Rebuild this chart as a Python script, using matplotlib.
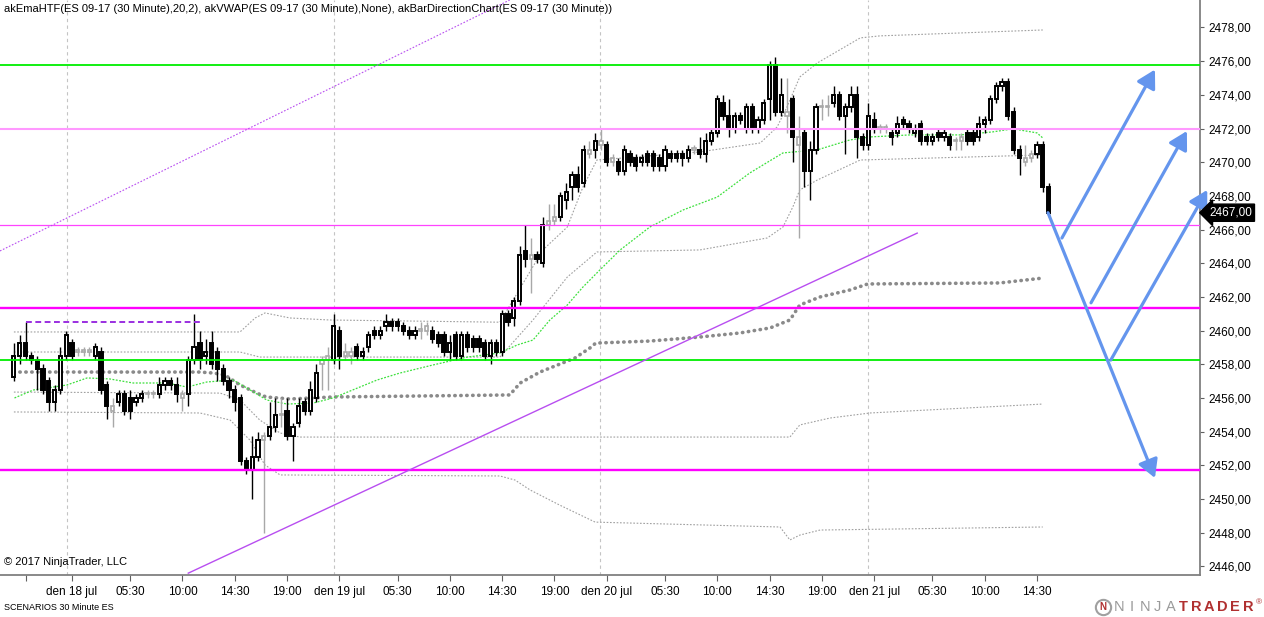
import numpy as np
import matplotlib.pyplot as plt
from matplotlib.lines import Line2D

plt.rcParams['font.family'] = ['Liberation Sans', 'DejaVu Sans']

# bar index of the 30 minute bars, 0 = first bar of "den 18 jul"
bar_idx = np.arange(-10, 169)

opens = [
    2457.25, 2458.5, 2459.25, 2458.5, 2458.25, 2457.75, 2457.0, 2455.75, 2456.5, 2458.5,
    2459.25, 2458.75, 2458.75, 2458.75, 2458.5, 2458.75, 2456.75, 2455.5, 2455.75, 2456.25,
    2456.0, 2455.75, 2456.0, 2456.25, 2456.25, 2456.25, 2456.75, 2457.0, 2456.75, 2456.25,
    2456.25, 2458.25, 2459.25, 2458.5, 2459.25, 2458.75, 2457.75, 2457.0, 2456.5, 2456.0,
    2452.25, 2451.75, 2452.5, 2453.75, 2453.75, 2454.25, 2455.0, 2455.25, 2453.75, 2454.5,
    2455.75, 2455.25, 2456.0, 2458.0, 2458.25, 2458.25, 2460.0, 2458.75, 2458.5, 2459.0,
    2458.5, 2459.0, 2460.0, 2459.75, 2460.25, 2460.5, 2460.5, 2460.25, 2460.0, 2459.75,
    2460.0, 2460.0, 2460.0, 2459.75, 2459.75, 2458.75, 2459.75, 2458.5, 2459.75, 2459.5,
    2459.5, 2459.25, 2458.5, 2459.25, 2458.75, 2461.0, 2460.75, 2461.75, 2464.75, 2464.5,
    2464.5, 2464.0, 2466.25, 2466.5, 2466.75, 2467.75, 2468.5, 2469.25, 2468.75, 2470.75,
    2470.75, 2471.25, 2471.0, 2470.25, 2470.0, 2469.5, 2470.5, 2470.25, 2470.0, 2470.5,
    2470.5, 2470.25, 2469.75, 2470.5, 2470.5, 2470.5, 2470.25, 2470.75, 2470.75, 2470.5,
    2471.25, 2471.75, 2473.5, 2472.75, 2472.0, 2472.75, 2472.0, 2473.25, 2472.0, 2472.5,
    2473.75, 2475.75, 2473.0, 2473.0, 2473.75, 2471.5, 2471.75, 2469.5, 2470.75, 2473.25,
    2473.25, 2473.5, 2474.0, 2472.75, 2473.25, 2474.0, 2471.5, 2471.0, 2472.5, 2472.0,
    2472.0, 2471.75, 2471.75, 2472.5, 2472.25, 2471.75, 2472.25, 2471.5, 2471.25, 2471.75,
    2471.5, 2471.5, 2471.25, 2471.25, 2471.75, 2471.75, 2471.5, 2472.25, 2472.5, 2473.75,
    2474.5, 2474.75, 2473.0, 2470.75, 2470.25, 2470.25, 2470.5, 2471.0, 2468.5,
]
highs = [
    2459.25, 2459.75, 2460.5, 2458.75, 2458.5, 2458.0, 2457.25, 2456.75, 2459.0, 2460.0,
    2459.5, 2459.0, 2459.0, 2459.0, 2459.25, 2459.0, 2457.0, 2456.0, 2456.5, 2456.5,
    2456.5, 2456.25, 2456.5, 2456.5, 2456.5, 2457.25, 2457.25, 2457.25, 2457.25, 2456.5,
    2458.5, 2461.0, 2460.0, 2459.5, 2460.0, 2459.0, 2458.0, 2457.25, 2456.75, 2456.25,
    2452.5, 2453.75, 2454.0, 2454.0, 2455.75, 2456.0, 2456.0, 2456.0, 2454.5, 2456.0,
    2456.0, 2457.0, 2458.0, 2458.5, 2459.0, 2461.0, 2460.25, 2459.25, 2459.0, 2459.25,
    2459.0, 2460.0, 2460.25, 2460.25, 2461.0, 2460.75, 2460.75, 2460.5, 2460.25, 2460.25,
    2460.5, 2460.5, 2460.25, 2460.0, 2460.0, 2459.75, 2460.0, 2460.0, 2460.0, 2459.75,
    2459.75, 2459.5, 2459.5, 2459.5, 2461.25, 2461.25, 2462.0, 2465.0, 2466.25, 2465.5,
    2464.75, 2466.75, 2467.5, 2467.5, 2468.25, 2468.75, 2469.5, 2469.75, 2471.0, 2471.25,
    2471.75, 2472.0, 2471.25, 2470.5, 2470.25, 2471.0, 2470.75, 2470.5, 2470.5, 2470.75,
    2470.75, 2470.5, 2471.0, 2470.75, 2470.75, 2470.75, 2471.0, 2471.0, 2471.5, 2471.75,
    2472.0, 2474.0, 2474.0, 2473.75, 2473.0, 2473.0, 2473.5, 2473.5, 2472.75, 2473.75,
    2476.0, 2476.25, 2475.0, 2475.0, 2474.0, 2472.75, 2472.0, 2471.25, 2473.5, 2473.75,
    2474.0, 2474.5, 2474.25, 2473.5, 2474.5, 2474.5, 2471.75, 2473.5, 2473.0, 2472.25,
    2472.25, 2472.0, 2472.75, 2472.75, 2472.5, 2472.25, 2472.5, 2471.75, 2471.75, 2472.0,
    2472.0, 2471.75, 2471.5, 2471.75, 2472.0, 2472.0, 2472.75, 2472.75, 2474.0, 2474.75,
    2475.0, 2475.0, 2473.25, 2471.0, 2471.0, 2470.75, 2471.25, 2471.25, 2468.75,
]
lows = [
    2457.0, 2458.0, 2458.25, 2458.0, 2456.5, 2456.25, 2455.25, 2455.25, 2456.25, 2458.25,
    2458.25, 2458.5, 2458.5, 2458.5, 2458.25, 2456.25, 2454.75, 2454.25, 2455.5, 2455.0,
    2454.75, 2455.5, 2455.75, 2456.0, 2456.0, 2456.0, 2456.5, 2456.5, 2455.75, 2455.25,
    2455.5, 2458.0, 2457.75, 2458.0, 2457.75, 2457.0, 2456.75, 2456.0, 2455.25, 2452.0,
    2451.5, 2450.0, 2452.25, 2448.0, 2453.5, 2454.0, 2454.25, 2453.5, 2452.25, 2454.25,
    2455.0, 2455.0, 2455.75, 2456.5, 2456.5, 2458.0, 2457.75, 2458.25, 2458.0, 2458.25,
    2458.25, 2458.75, 2459.5, 2459.5, 2460.0, 2460.0, 2460.0, 2459.75, 2459.5, 2459.5,
    2459.5, 2459.75, 2459.25, 2459.0, 2458.5, 2458.25, 2458.25, 2458.25, 2458.75, 2458.75,
    2458.75, 2458.25, 2458.0, 2458.5, 2458.5, 2460.25, 2460.25, 2461.5, 2463.75, 2462.25,
    2464.0, 2463.75, 2466.0, 2466.25, 2466.5, 2467.25, 2467.75, 2468.25, 2468.5, 2470.25,
    2470.25, 2470.75, 2469.75, 2469.75, 2469.25, 2469.25, 2469.75, 2469.5, 2469.75, 2469.75,
    2469.5, 2469.5, 2469.5, 2470.0, 2470.0, 2469.75, 2470.0, 2470.5, 2470.25, 2470.0,
    2471.0, 2471.5, 2472.5, 2471.5, 2471.75, 2472.25, 2471.75, 2471.75, 2471.75, 2472.25,
    2472.5, 2472.75, 2472.75, 2471.75, 2470.0, 2465.5, 2468.5, 2467.75, 2470.5, 2472.5,
    2472.75, 2473.25, 2472.5, 2470.5, 2473.0, 2470.25, 2470.75, 2470.75, 2471.75, 2471.75,
    2471.75, 2471.0, 2471.5, 2472.0, 2471.75, 2471.5, 2471.0, 2471.0, 2471.0, 2471.25,
    2471.25, 2470.75, 2470.75, 2470.75, 2471.0, 2471.0, 2471.25, 2471.75, 2472.25, 2473.5,
    2474.25, 2472.5, 2470.5, 2469.25, 2469.75, 2470.0, 2470.25, 2468.25, 2466.75,
]
closes = [
    2458.5, 2459.25, 2458.5, 2458.25, 2457.75, 2456.5, 2455.75, 2456.5, 2458.5, 2459.75,
    2458.5, 2458.75, 2458.75, 2458.75, 2459.0, 2456.5, 2455.5, 2455.25, 2456.25, 2455.25,
    2455.25, 2456.0, 2456.25, 2456.25, 2456.25, 2456.75, 2457.0, 2456.75, 2456.25, 2456.0,
    2458.25, 2459.0, 2458.25, 2458.75, 2458.0, 2457.75, 2457.0, 2456.5, 2455.75, 2452.25,
    2451.75, 2452.5, 2453.5, 2453.5, 2454.25, 2455.0, 2455.0, 2453.75, 2454.25, 2455.5,
    2455.25, 2456.5, 2457.5, 2458.25, 2458.5, 2460.25, 2458.5, 2458.5, 2458.75, 2458.5,
    2458.75, 2459.75, 2459.75, 2460.0, 2460.5, 2460.25, 2460.25, 2460.0, 2459.75, 2460.0,
    2460.0, 2460.25, 2459.5, 2459.25, 2458.75, 2459.25, 2458.5, 2459.75, 2459.0, 2459.0,
    2459.0, 2458.5, 2459.25, 2458.75, 2461.0, 2460.5, 2461.75, 2464.5, 2464.25, 2464.25,
    2464.25, 2466.25, 2466.5, 2466.75, 2468.0, 2468.25, 2469.25, 2468.5, 2470.75, 2470.5,
    2471.25, 2471.0, 2470.0, 2470.0, 2469.5, 2470.75, 2470.0, 2469.75, 2470.25, 2470.0,
    2469.75, 2469.75, 2470.75, 2470.25, 2470.25, 2470.25, 2470.75, 2470.75, 2470.5, 2471.25,
    2471.75, 2473.75, 2472.75, 2472.0, 2472.75, 2472.5, 2473.25, 2472.0, 2472.5, 2473.5,
    2475.75, 2473.0, 2474.0, 2472.75, 2471.5, 2471.0, 2469.5, 2470.75, 2473.25, 2473.25,
    2473.25, 2474.0, 2472.75, 2473.25, 2474.0, 2471.5, 2471.0, 2472.75, 2472.0, 2472.0,
    2472.0, 2471.5, 2472.25, 2472.25, 2472.0, 2472.0, 2471.25, 2471.25, 2471.5, 2471.5,
    2471.75, 2471.0, 2471.25, 2471.5, 2471.25, 2471.25, 2472.25, 2472.5, 2473.75, 2474.5,
    2474.75, 2472.75, 2470.75, 2470.25, 2470.0, 2470.5, 2471.0, 2468.5, 2467.0,
]
# neutral bars painted gray by akBarDirectionChart
gray_bars = [1, 2, 3, 7, 13, 14, 19, 33, 36, 43, 44, 47, 48, 60, 61, 79, 82, 83, 89, 91,
             93, 107, 123, 125, 129, 130, 139, 140, 152, 153, 164, 165]

# akEmaHTF
ema_x = [-9.9, -6.7, -0.9, 2.6, 6.5, 10.5, 16.3, 19.8, 23.2, 27.7, 30.1, 33.5, 37.0, 41.5,
         44.9, 52.5, 56.4, 62.1, 68.0, 73.6, 76.6, 79.3, 82.2, 85.2, 87.9, 90.8, 94.3, 99.4,
         105.1, 111.0, 116.6, 122.3, 128.2, 133.8, 137.3, 144.2, 152.8, 158.4, 161.9, 166.0, 167.0]
ema_y = [2456.0, 2456.47, 2456.77, 2457.19, 2457.13, 2456.89, 2456.89, 2456.65, 2456.95, 2457.07,
         2456.59, 2455.88, 2455.64, 2455.7, 2456.0, 2457.07, 2457.48, 2457.96, 2458.43, 2458.67,
         2459.15, 2459.44, 2460.63, 2461.52, 2462.59, 2463.6, 2464.79, 2466.15, 2467.16, 2467.93,
         2469.36, 2470.55, 2470.73, 2471.32, 2471.5, 2471.62, 2471.62, 2471.8, 2471.98, 2471.74, 2471.44]

# akVWAP and its bands
vwap_x = [-10, 22, 24.4, 26.3, 28.9, 31.8, 33.4, 37.5, 44.9, 75.3, 77.1, 80.5, 86.5, 89.1,
          90.1, 99.4, 108.0, 114.9, 120.1, 123.5, 125.2, 128.7, 133.8, 136.9, 159.6, 167.0]
vwap_y = [2457.54, 2457.54, 2457.48, 2457.36, 2456.77, 2456.29, 2456.06, 2455.94, 2456.06, 2456.18,
          2456.89, 2457.54, 2458.37, 2458.97, 2459.26, 2459.38, 2459.62, 2459.86, 2460.16, 2460.63,
          2461.52, 2462.0, 2462.41, 2462.77, 2462.83, 2463.12]
up2_x = [-10, 28.9, 31.5, 33.2, 37.5, 44.4, 73.6, 76.6, 81.0, 85.2, 87.9, 90.3, 108.0, 118.4,
         121.3, 123.0, 125.2, 128.2, 135.6, 139.0, 167.0]
up2_y = [2459.92, 2459.92, 2460.75, 2461.05, 2460.75, 2460.63, 2460.5, 2462.23, 2464.79, 2466.15,
         2468.53, 2470.13, 2470.61, 2471.14, 2472.09, 2473.28, 2475.06, 2475.89, 2477.38, 2477.5, 2477.85]
up1_x = [-10, 28.9, 32.3, 44.4, 73.6, 79.3, 85.2, 90.3, 108.0, 119.6, 122.3, 124.0, 125.2,
         128.2, 135.6, 167.0]
up1_y = [2458.73, 2458.73, 2458.43, 2458.43, 2458.43, 2460.63, 2463.18, 2464.67, 2464.79, 2465.5,
         2466.15, 2467.34, 2468.35, 2468.94, 2470.13, 2470.43]
lo1_x = [-10, 25.5, 28.9, 32.3, 35.8, 39.2, 123.5, 125.2, 130.4, 137.3, 167.0]
lo1_y = [2456.35, 2456.29, 2455.88, 2454.69, 2453.92, 2453.68, 2453.68, 2454.4, 2454.81, 2455.11, 2455.64]
lo2_x = [-10, 22.0, 27.2, 30.6, 33.2, 35.8, 73.6, 76.2, 78.8, 83.9, 90.0, 121.8, 123.5, 125.2,
         128.7, 167.0]
lo2_y = [2455.17, 2455.11, 2454.69, 2453.5, 2452.02, 2451.43, 2451.37, 2451.13, 2450.54, 2449.64,
         2448.63, 2448.34, 2447.57, 2447.86, 2448.16, 2448.34]

# drawn levels
green_levels = [2475.75, 2458.25]
pink_levels = [2472.0]
light_magenta_levels = [2466.25]
magenta_levels = [2461.35, 2451.75]

# trend lines (start, end) in bar index / price
trend_dotted = ([-12.4, 75.3], [2464.73, 2479.63])
trend_solid = ([20.0, 145.4], [2445.6, 2465.79])
high_dashed = ([-8, 22], [2460.5, 2460.5])

# scenario arrows (start, tip)
scenario_arrows = [
    ((167.9, 2467.0), (186.3, 2451.25)),
    ((170.3, 2465.5), (186.3, 2475.5)),
    ((175.3, 2461.65), (191.8, 2471.85)),
    ((178.7, 2458.25), (195.3, 2468.35)),
]

day_lines = [-0.9, 45.1, 90.85, 136.95]
tick_pos = [-8, 0, 10, 19, 28, 37, 46, 56, 65, 74, 83, 92, 102, 111, 120, 129, 138, 148, 157, 166]
tick_lbl = ['', 'den 18 jul', '05:30', '10:00', '14:30', '19:00', 'den 19 jul', '05:30', '10:00',
            '14:30', '19:00', 'den 20 jul', '05:30', '10:00', '14:30', '19:00', 'den 21 jul',
            '05:30', '10:00', '14:30']
last_price = 2467.0

assert len(opens) == len(highs) == len(lows) == len(closes) == len(bar_idx)

W, H = 1264, 617
fig = plt.figure(figsize=(W / 100, H / 100), dpi=100)
ax = fig.add_axes([0, 42 / H, 1200 / W, 575 / H])
ax.set_xlim(-12.39, 194.05)
ax.set_ylim(2445.49, 2479.63)

for x in day_lines:
    ax.axvline(x, color='#c4c4c4', lw=0.8, ls=(0, (3, 3)), zorder=1)

# indicators
band_style = dict(color='#a0a0a0', lw=0.8, ls=(0, (1.5, 1.5)), zorder=2)
for bx, by in [(up2_x, up2_y), (up1_x, up1_y), (lo1_x, lo1_y), (lo2_x, lo2_y)]:
    ax.plot(bx, by, **band_style)
ax.plot(vwap_x, vwap_y, color='#8a8a8a', lw=2.6, ls=(0, (0.1, 1.55)),
        dash_capstyle='round', zorder=2)
ax.plot(ema_x, ema_y, color='#3ee03e', lw=0.9, ls=(0, (1.5, 1.2)), zorder=2)

# candles
o = np.array(opens)
h = np.array(highs)
l = np.array(lows)
c = np.array(closes)
gray = np.isin(bar_idx, gray_bars)
up = (c > o) & ~gray
dn = (c <= o) & ~gray
lo_body = np.minimum(o, c)
hgt = np.maximum(np.abs(c - o), 0.07)

ax.vlines(bar_idx[~gray], l[~gray], h[~gray], color='black', lw=1.0, zorder=3)
ax.vlines(bar_idx[gray], l[gray], h[gray], color='#a8a8a8', lw=1.0, zorder=3)
ax.bar(bar_idx[up], hgt[up], 0.55, lo_body[up], facecolor='white', edgecolor='black', lw=1.4, zorder=4)
ax.bar(bar_idx[dn], hgt[dn], 0.55, lo_body[dn], facecolor='black', edgecolor='black', lw=1.4, zorder=4)
ax.bar(bar_idx[gray], hgt[gray], 0.55, lo_body[gray], facecolor='white', edgecolor='#a8a8a8', lw=1.2, zorder=4)

# levels
for y in green_levels:
    ax.axhline(y, color='#00ee00', lw=1.3, zorder=5)
for y in pink_levels:
    ax.axhline(y, color='#ff99ff', lw=1.5, zorder=5)
for y in light_magenta_levels:
    ax.axhline(y, color='#ff44ff', lw=0.9, zorder=5)
for y in magenta_levels:
    ax.axhline(y, color='#ff00ff', lw=1.7, zorder=5)

ax.plot(*trend_dotted, color='#b84ef0', lw=0.8, ls=(0, (1.5, 1.5)), zorder=5)
ax.plot(*trend_solid, color='#b84ef0', lw=1.0, zorder=5)
ax.plot(*high_dashed, color='#9a2fe0', lw=1.4, ls=(0, (3, 1.8)), zorder=6)

for start, tip in scenario_arrows:
    ax.annotate('', xy=tip, xytext=start, annotation_clip=False, zorder=6,
                arrowprops=dict(arrowstyle='-|>,head_length=0.6,head_width=0.34',
                                mutation_scale=18, color='#6495ed', lw=2.3,
                                shrinkA=0, shrinkB=0))

# axes styling
for s in ['top', 'left']:
    ax.spines[s].set_visible(False)
for s in ['right', 'bottom']:
    ax.spines[s].set_color('#808080')
    ax.spines[s].set_linewidth(1.3)

yt = np.arange(2446, 2479, 2)
ax.yaxis.tick_right()
ax.set_yticks(yt)
ax.set_yticklabels([f'{v:.2f}'.replace('.', ',') for v in yt])
ax.tick_params(axis='y', length=3, width=0.8, color='#606060', pad=3, labelsize=8.5)
ax.set_xticks(tick_pos)
ax.set_xticklabels(tick_lbl)
ax.tick_params(axis='x', length=4, width=0.8, color='#606060', pad=4, labelsize=8.5)

ax.text(1.0075, last_price, f'{last_price:.2f}'.replace('.', ','), transform=ax.get_yaxis_transform(),
        color='white', fontsize=8.5, va='center', ha='left', clip_on=False, zorder=10,
        bbox=dict(boxstyle='larrow,pad=0.22', fc='black', ec='black'))

fig.text(4 / W, 1 - 9 / H,
         'akEmaHTF(ES 09-17 (30 Minute),20,2), akVWAP(ES 09-17 (30 Minute),None), '
         'akBarDirectionChart(ES 09-17 (30 Minute))', fontsize=8, va='center')
fig.text(4 / W, 1 - 562 / H, '\u00a9 2017 NinjaTrader, LLC', fontsize=8, va='center')
fig.text(4 / W, 1 - 607 / H, 'SCENARIOS 30 Minute ES', fontsize=6.5, va='center')

# NinjaTrader logo
fig.add_artist(Line2D([1103 / W], [1 - 607 / H], marker='o', ms=11, mfc='none', mec='#a0a0a0',
                      mew=1.5, transform=fig.transFigure))
fig.text(1103 / W, 1 - 607 / H, 'N', fontsize=7, color='#b03030', fontweight='bold',
         ha='center', va='center')
for i, ch in enumerate('NINJATRADER'):
    red = i >= 5
    fig.text((1119 + 12.9 * i) / W, 1 - 607 / H, ch, fontsize=10.5, ha='center', va='center',
             color='#b03030' if red else '#9a9a9a', fontweight='bold' if red else 'normal')
fig.text(1259 / W, 1 - 603 / H, '\u00ae', fontsize=6, color='#b03030', ha='center', va='center')

fig.savefig('out.png', dpi=100, facecolor='white')
